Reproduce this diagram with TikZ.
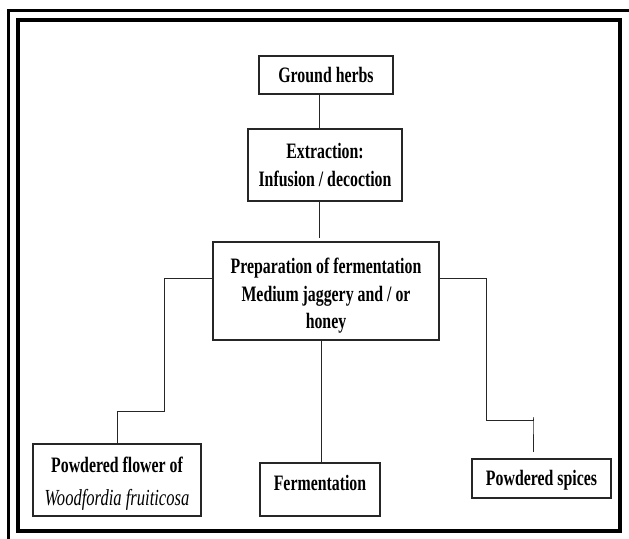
\documentclass[tikz,border=0pt]{standalone}
\usepackage{fontspec}
\setmainfont{Liberation Serif}[FakeStretch=0.72]

\def\frameout{3pt}
\def\framein{4pt}

\begin{document}
\begin{tikzpicture}[x=1pt,y=-1pt,line width=1pt,draw=black!85]
		\tikzstyle{stage}=[draw,line width=1.3pt,align=center,inner sep=0pt,font=\bfseries\fontsize{22}{27.5}\selectfont]
		\tikzstyle{link}=[line width=1pt]
		
		\useasboundingbox (0,0) rectangle (629,538);
		
		% Draw the double frame
		\draw[line width=\frameout,black] (8.5,560) |- (650,10.5);
		\draw[line width=\framein,black] (18,20) rectangle (620,530.5);
		
		% Draw the main column
		\node[stage, minimum width=134pt, minimum height=38pt] (herbs) at (326,75) {Ground herbs};
		\node[stage, minimum width=154pt, minimum height=72pt] (extract) at (325,165) {Extraction:\\Infusion / decoction};
		\node[stage, minimum width=226pt, minimum height=98pt] (prep) at (326,291) {\rule{0pt}{25pt}Preparation of fermentation\\Medium jaggery and / or\\honey};
		
		% Draw the three end boxes
		\node[stage, minimum width=168pt, minimum height=72pt, font=\bfseries\fontsize{22}{33}\selectfont] (flower) at (117,480) {\rule{0pt}{23pt}Powdered flower of\\{\mdseries\itshape\fontsize{23}{33}\selectfont Woodfordia fruiticosa}};
		\node[stage, minimum width=120pt, minimum height=53pt, text depth=13pt] (ferm) at (320,489.5) {Fermentation};
		\node[stage, minimum width=139pt, minimum height=39pt, text height=18pt] (spices) at (541.5,478.5) {Powdered spices};
		
		% Connect the column
		\draw[link] ([xshift=-7pt]herbs.south) -- ([xshift=-7pt]herbs.south |- extract.north);
		\draw[link] ([xshift=-6pt]extract.south) -- ++(0,36);
		
		% Connect the fermentation medium with the end boxes
		\draw[link] ([yshift=13pt]prep.west) -| (164,411) -| (flower.north);
		\draw[link] ([xshift=-5pt]prep.south) -- ++(0,121);
		\draw[link] ([yshift=13pt]prep.east) -| (486,420) -| ++(47,-3) -- ++(0,35);
		\end{tikzpicture}
\end{document}
